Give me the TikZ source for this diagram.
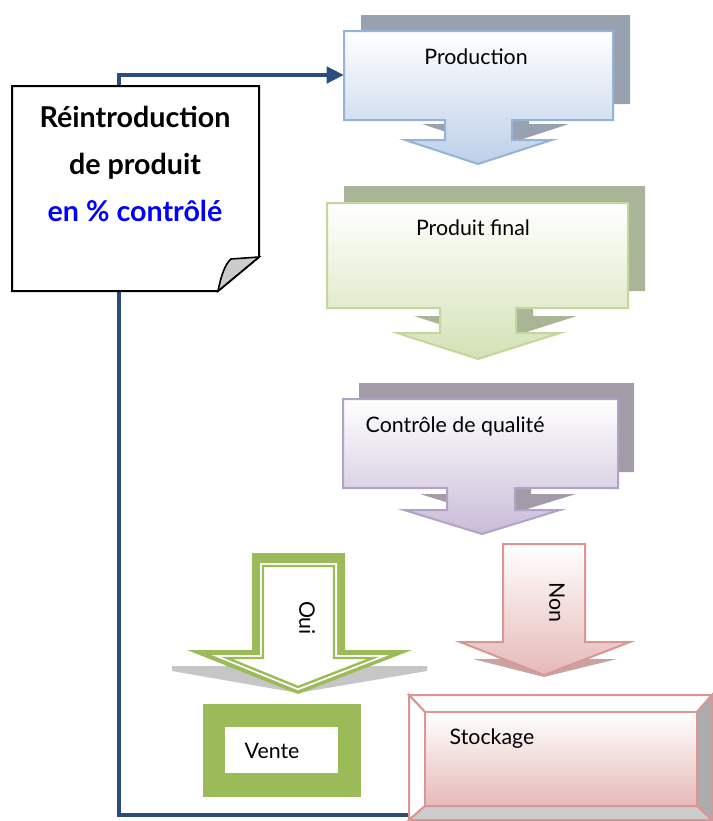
\documentclass[tikz,border=0pt]{standalone}
\usepackage{fontspec}
\setmainfont{Lato}
\usepackage{xcolor}
\usetikzlibrary{arrows.meta}

\definecolor{navyline}{HTML}{2B4C7E}
\definecolor{prodline}{HTML}{95B3D7}
\definecolor{prodfill}{HTML}{BDD0E9}
\definecolor{prodshade}{HTML}{97A1AF}
\definecolor{finalline}{HTML}{C3D69B}
\definecolor{finalfill}{HTML}{D3E2B6}
\definecolor{finalshade}{HTML}{A9B597}
\definecolor{ctrlline}{HTML}{B3A2C7}
\definecolor{ctrlfill}{HTML}{C9BCD8}
\definecolor{ctrlshade}{HTML}{A49BA9}
\definecolor{ouigreen}{HTML}{9BBB59}
\definecolor{nonline}{HTML}{D99694}
\definecolor{nonfill}{HTML}{E6B9B8}
\definecolor{nonshade}{HTML}{C9A3A2}

\tikzset{
  steptext/.style={font=\fontsize{16}{19}\selectfont},
  frontbox/.style={draw=#1line,line width=1.5pt,top color=white,bottom color=#1fill},
  prodback/.style={fill=prodshade},   prodfront/.style={frontbox=prod},
  finalback/.style={fill=finalshade}, finalfront/.style={frontbox=final},
  ctrlback/.style={fill=ctrlshade},   ctrlfront/.style={frontbox=ctrl},
  feedback/.style={draw=navyline,line width=3.6pt,-{Triangle[length=13pt,width=12pt]}},
  bevelline/.style={draw=nonline,line width=1.5pt}
}

\begin{document}
\begin{tikzpicture}[x=0.75pt,y=-0.75pt]
        \useasboundingbox (0,0) rectangle (713,821);
        % retour vers la production
        \coordinate (prodin) at (344,75);
        \coordinate (back) at (430,815);
        \coordinate (corner) at (119,815);
        \draw[feedback] (back) -- (corner) |- (prodin);

        % etapes avec ombre
        \foreach \dx/\dy/\sty in {17/-16/prodback, 0/0/prodfront}
          \path[\sty,shift={(\dx,\dy)}] (344,31) -- (613,31) -- (613,120) -- (512,120) -- (512,140) -- (552,140)
            -- (478,164) -- (405,140) -- (445,140) -- (445,120) -- (344,120) -- cycle;
        \foreach \dx/\dy/\sty in {17/-17/finalback, 0/0/finalfront}
          \path[\sty,shift={(\dx,\dy)}] (327,203) -- (628,203) -- (628,308) -- (516,308) -- (516,333) -- (560,333)
            -- (478,359) -- (397,333) -- (440,333) -- (440,308) -- (327,308) -- cycle;
        \foreach \dx/\dy/\sty in {16/-16/ctrlback, 0/0/ctrlfront}
          \path[\sty,shift={(\dx,\dy)}] (343,399) -- (618,399) -- (618,488) -- (515,488) -- (515,510) -- (560,510)
            -- (482,534) -- (404,510) -- (447,510) -- (447,488) -- (343,488) -- cycle;
        \node[steptext] (prod) at (476,57) {Production};
        \node[steptext] (final) at (473,228) {Produit final};
        \node[steptext,anchor=west] (ctrl) at (361,426) {Contrôle de qualité};

        % branche oui
        \fill[gray!45] (172,666) -- (427,666) -- (427,671) -- (298,693) -- (172,671) -- cycle;
        \fill[ouigreen] (252,553) -- (345,553) -- (345,650) -- (412,650) -- (298,694) -- (187,650) -- (252,650) -- cycle;
        \draw[white,line width=4.5pt] (263,566) -- (334,566) -- (334,658) -- (373,658) -- (298,687) -- (227,658) -- (263,658) -- cycle;
        \filldraw[draw=ouigreen,fill=white,line width=1.8pt] (263,566) -- (334,566) -- (334,658) -- (373,658) -- (298,687) -- (227,658) -- (263,658) -- cycle;
        \node[steptext,rotate=-90] (oui) at (307,618) {Oui};
        \fill[ouigreen] (203,704) rectangle (361,797);
        \fill[white] (225,727) rectangle (338,773);
        \node[steptext,anchor=west] (vente) at (240,751) {Vente};

        % branche non
        \fill[nonshade] (473,659) -- (617,659) -- (544,677) -- cycle;
        \path[frontbox=non] (503,544) -- (585,544) -- (585,642) -- (630,642) -- (544,675) -- (460,642) -- (503,642) -- cycle;
        \node[steptext,rotate=-90] (non) at (557,602) {Non};

        % stockage en relief
        \path[bevelline,fill=white] (409,695) -- (712,695) -- (697,712) -- (425,712) -- cycle;
        \path[bevelline,fill=white] (409,695) -- (425,712) -- (425,806) -- (409,820) -- cycle;
        \path[bevelline,fill=gray!65] (712,695) -- (712,820) -- (697,806) -- (697,712) -- cycle;
        \path[bevelline,fill=gray!40] (409,820) -- (712,820) -- (697,806) -- (425,806) -- cycle;
        \path[frontbox=non] (425,712) rectangle (697,806);
        \node[steptext,anchor=west] (stock) at (445,739) {Stockage};

        % note
        \filldraw[fill=white,line width=1.5pt] (12,86) -- (259,86) -- (259,257) -- (218,291) -- (12,291) -- cycle;
        \filldraw[fill=gray!40,line width=1.2pt] (218,291) .. controls (221,276) and (225,264) .. (231,259) -- (259,257) -- cycle;
        \node[align=center,font=\bfseries\fontsize{21.5}{35}\selectfont] (note) at (135,164)
          {Réintroduction\\de produit\\\textcolor{blue}{en \% contrôlé}};
      \end{tikzpicture}
\end{document}
